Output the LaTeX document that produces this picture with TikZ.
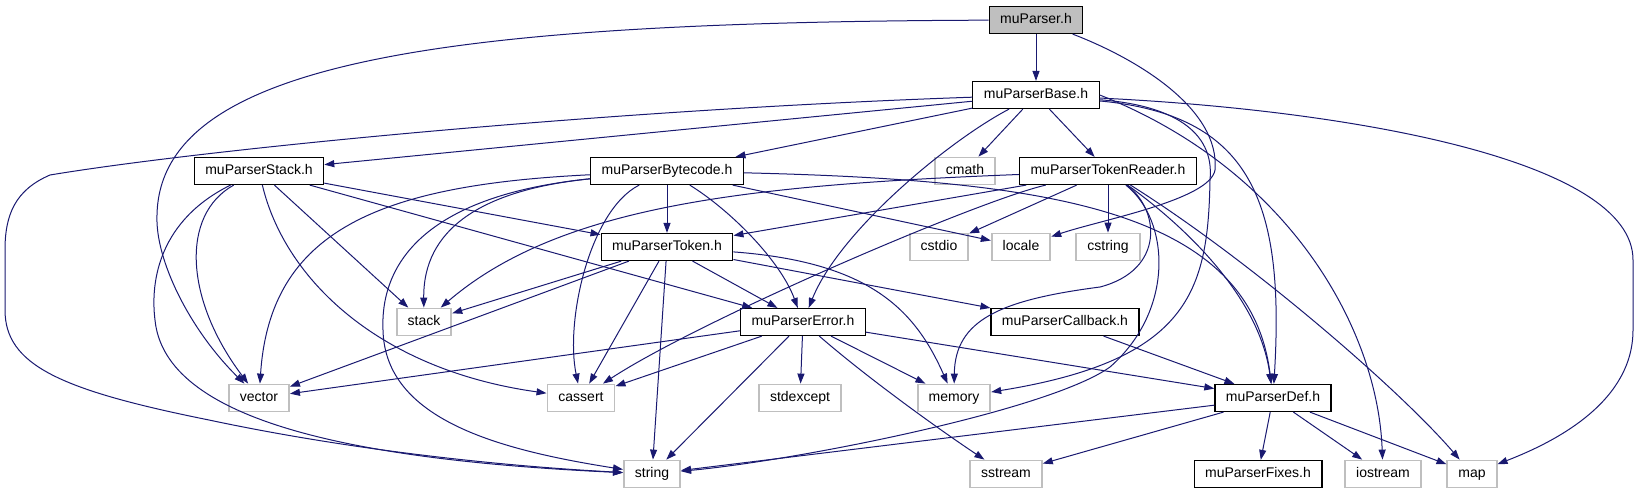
\documentclass[tikz,border=0pt]{standalone}
\usepackage{fontspec}
\setmainfont{Liberation Sans}
\usetikzlibrary{arrows.meta}
\definecolor{azulnoche}{HTML}{191970}
\definecolor{grisborde}{HTML}{BFBFBF}
\definecolor{grisraiz}{HTML}{BFBFBF}
\tikzset{
  archivo/.style={rectangle,draw=black,fill=white,line width=0.6pt,inner xsep=5.5pt,inner ysep=0pt,minimum height=13.5pt,text height=5.3pt,text depth=1.5pt,font=\fontsize{7}{8}\selectfont},
  sistema/.style={archivo,draw=grisborde,line width=0.9pt},
  raiz/.style={archivo,fill=grisraiz},
  enlace/.style={draw=azulnoche,line width=0.5pt,-{Triangle[length=5pt,width=3.5pt]}},
}

\begin{document}
\begin{tikzpicture}[x=0.5pt,y=-0.5pt]
\useasboundingbox (0,0) rectangle (1639,493);
\node[raiz] (muparser) at (1036,20) {muParser.h};
\node[archivo] (base) at (1036,95) {muParserBase.h};
\node[archivo] (stackh) at (259,171) {muParserStack.h};
\node[archivo] (bytecode) at (667,171) {muParserBytecode.h};
\node[sistema] (cmath) at (965,171) {cmath};
\node[archivo] (tokenreader) at (1108,171) {muParserTokenReader.h};
\node[archivo] (token) at (667,247) {muParserToken.h};
\node[sistema] (cstdio) at (939,247) {cstdio};
\node[sistema] (locale) at (1021,247) {locale};
\node[sistema] (cstring) at (1108,247) {cstring};
\node[sistema] (stack) at (424,322) {stack};
\node[archivo] (error) at (803,322) {muParserError.h};
\node[archivo] (callback) at (1065,322) {muParserCallback.h};
\node[sistema] (vector) at (259,398) {vector};
\node[sistema] (cassert) at (581,398) {cassert};
\node[sistema] (stdexcept) at (800,398) {stdexcept};
\node[sistema] (memory) at (954,398) {memory};
\node[archivo] (def) at (1273,398) {muParserDef.h};
\node[sistema] (string) at (652,474) {string};
\node[sistema] (sstream) at (1006,474) {sstream};
\node[archivo] (fixes) at (1258,474) {muParserFixes.h};
\node[sistema] (iostream) at (1383,474) {iostream};
\node[sistema] (map) at (1472,474) {map};
% muParser.h
\draw[enlace] (muparser) -- (base);
\draw[enlace] (muparser) .. controls (450,22) and (160,60) .. (157,215) .. controls (155,260) and (190,330) .. (vector);
\draw[enlace] (muparser) .. controls (1140,60) and (1220,110) .. (1215,170) .. controls (1210,200) and (1100,220) .. (locale);
% muParserBase.h
\draw[enlace] (base) -- (stackh);
\draw[enlace] (base) -- (bytecode);
\draw[enlace] (base) -- (cmath);
\draw[enlace] (base) -- (tokenreader);
\draw[enlace] (base) .. controls (600,110) and (200,150) .. (50,175) .. controls (15,190) and (5,215) .. (5,250) -- (5,310) .. controls (5,365) and (60,390) .. (209,420) .. controls (350,450) and (500,466) .. (string);
\draw[enlace] (base) .. controls (950,140) and (840,230) .. (error);
\draw[enlace] (base) .. controls (1170,105) and (1215,130) .. (1210,180) .. controls (1208,290) and (1190,360) .. (memory);
\draw[enlace] (base) .. controls (1250,115) and (1285,200) .. (def);
\draw[enlace] (base.east) .. controls (1290,170) and (1378,330) .. (iostream);
\draw[enlace] (base) .. controls (1350,110) and (1633,160) .. (1633,260) -- (1633,330) .. controls (1633,400) and (1560,440) .. (map);
% muParserStack.h
\draw[enlace] (stackh) -- (token);
\draw[enlace] (stackh) -- (error);
\draw[enlace] (stackh) -- (stack);
\draw[enlace] (stackh) .. controls (285,280) and (380,370) .. (cassert);
\draw[enlace] (stackh) .. controls (180,215) and (185,300) .. (vector);
\draw[enlace] (stackh) .. controls (160,220) and (150,280) .. (155,320) .. controls (165,420) and (350,460) .. (string);
% muParserBytecode.h
\draw[enlace] (bytecode) -- (token);
\draw[enlace] (bytecode) .. controls (480,190) and (423,230) .. (stack);
\draw[enlace] (bytecode) .. controls (380,185) and (270,230) .. (vector);
\draw[enlace] (bytecode) .. controls (430,195) and (380,260) .. (383,330) .. controls (385,420) and (500,450) .. (string);
\draw[enlace] (bytecode) .. controls (590,210) and (565,320) .. (cassert);
\draw[enlace] (bytecode) .. controls (730,210) and (780,260) .. (error);
\draw[enlace] (bytecode) -- (locale);
\draw[enlace] (bytecode) .. controls (1050,180) and (1250,210) .. (def);
% muParserTokenReader.h
\draw[enlace] (tokenreader) -- (token);
\draw[enlace] (tokenreader) .. controls (750,185) and (560,205) .. (stack);
\draw[enlace] (tokenreader) -- (cstdio);
\draw[enlace] (tokenreader) -- (cstring);
\draw[enlace] (tokenreader) .. controls (980,200) and (700,320) .. (cassert);
\draw[enlace] (tokenreader) .. controls (1160,210) and (1165,270) .. (1100,287) .. controls (1000,300) and (955,320) .. (memory);
\draw[enlace] (tokenreader) .. controls (1170,220) and (1175,310) .. (1110,367) .. controls (1050,410) and (800,460) .. (string);
\draw[enlace] (tokenreader) .. controls (1190,230) and (1260,300) .. (def);
\draw[enlace] (tokenreader) .. controls (1250,260) and (1400,390) .. (map);
% muParserToken.h
\draw[enlace] (token) -- (stack);
\draw[enlace] (token) -- (vector);
\draw[enlace] (token) -- (cassert);
\draw[enlace] (token) -- (string);
\draw[enlace] (token) -- (error);
\draw[enlace] (token) .. controls (870,262) and (915,310) .. (memory);
\draw[enlace] (token) -- (callback);
% muParserError.h
\draw[enlace] (error) -- (vector);
\draw[enlace] (error) -- (cassert);
\draw[enlace] (error) -- (string);
\draw[enlace] (error) -- (stdexcept);
\draw[enlace] (error) -- (memory);
\draw[enlace] (error) .. controls (870,380) and (940,430) .. (sstream);
\draw[enlace] (error) -- (def);
% muParserCallback.h
\draw[enlace] (callback) -- (def);
% muParserDef.h
\draw[enlace] (def) -- (string);
\draw[enlace] (def) -- (sstream);
\draw[enlace] (def) -- (fixes);
\draw[enlace] (def) -- (iostream);
\draw[enlace] (def) -- (map);
\end{tikzpicture}
\end{document}
